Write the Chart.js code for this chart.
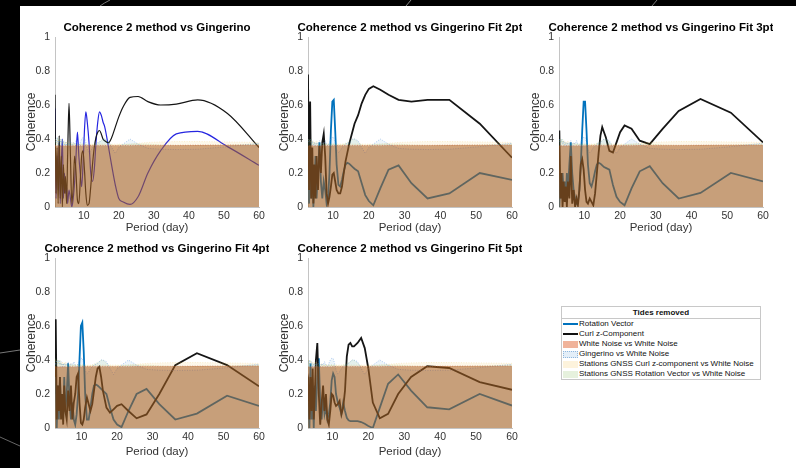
<!DOCTYPE html>
<html>
<head>
<meta charset="utf-8">
<script src="https://cdn.jsdelivr.net/npm/chart.js@4.4.1/dist/chart.umd.min.js"></script>
<style>
  body { margin: 0; width: 796px; height: 468px; overflow: hidden; position: relative; background: #000;
         font-family: "Liberation Sans", Arial, Helvetica, sans-serif; }
  #sheet { position: absolute; left: 20px; top: 6px; right: 0; bottom: 0; background: #fff; }
  #deco { position: absolute; left: 0; top: 0; }
  canvas { position: absolute; }
  #legend { position: absolute; left: 561px; top: 306px; width: 198px; height: 72px;
            border: 1px solid #c8c8c8; background: #fff; font-size: 8px; color: #111; }
  #legend .lt { height: 11px; line-height: 11px; text-align: center; font-weight: bold; border-bottom: 1px solid #c8c8c8; }
  #legend .li { height: 10px; line-height: 10px; position: relative; padding-left: 17px; white-space: nowrap; }
  #legend .ln { position: absolute; left: 1px; top: 4px; width: 15px; height: 2px; }
  #legend .sw { position: absolute; left: 1px; top: 1.5px; width: 15px; height: 7px; box-sizing: border-box; }
</style>
</head>
<body>
<svg id="deco" width="796" height="468">
  <path d="M0 353 L20 350" stroke="#777" stroke-width="1" fill="none"/>
  <path d="M0 437 L20 446" stroke="#666" stroke-width="1" fill="none"/>
  <path d="M100 6 Q104 3 110 0" stroke="#777" stroke-width="1" fill="none"/>
  <path d="M406 6 L411 0" stroke="#888" stroke-width="1" fill="none"/>
  <path d="M652 6 L657 0" stroke="#777" stroke-width="1" fill="none"/>
</svg>
<div id="sheet"></div>

<canvas id="c1" width="254" height="219" style="left:15px;top:20px"></canvas>
<canvas id="c2" width="254" height="219" style="left:268px;top:20px"></canvas>
<canvas id="c3" width="254" height="219" style="left:519px;top:20px"></canvas>
<canvas id="c4" width="254" height="219" style="left:15px;top:241px"></canvas>
<canvas id="c5" width="254" height="219" style="left:268px;top:241px"></canvas>

<div id="legend">
  <div class="lt">Tides removed</div>
  <div class="li"><span class="ln" style="background:#0072BD"></span>Rotation Vector</div>
  <div class="li"><span class="ln" style="background:#111"></span>Curl z-Component</div>
  <div class="li"><span class="sw" style="background:#f0b39a"></span>White Noise vs White Noise</div>
  <div class="li"><span class="sw" style="background:#e3eef8;border:1px dotted #8fb7dd"></span>Gingerino vs White Noise</div>
  <div class="li"><span class="sw" style="background:#fdf3dc"></span>Stations GNSS Curl z-component vs White Noise</div>
  <div class="li"><span class="sw" style="background:#e6f1dd"></span>Stations GNSS Rotation Vector vs White Noise</div>
</div>

<script>
// periods (day) shared by every series
const periods = [1.8, 2.1, 2.4, 2.7, 3.0, 3.3, 3.6, 3.9, 4.2, 4.5, 4.8, 5.1, 5.4,
  5.8, 6.2, 6.6, 7.0, 7.4, 7.8, 8.2, 8.6, 9.0, 9.4, 9.8,
  10.2, 10.6, 11.0, 11.5, 12.0, 12.5, 13.0, 13.5, 14.0, 14.5, 15.0, 15.5, 16,
  17, 18, 19, 20, 21.25, 23.2, 25.5, 28.3, 31.9, 36.4, 42.5, 51, 60];
const xTicks = [10, 20, 30, 40, 50, 60];

// noise levels (same in every panel)
const whiteNoise = [0.36, 0.36, 0.36, 0.36, 0.36, 0.36, 0.36, 0.36, 0.36, 0.36, 0.36, 0.36, 0.36,
  0.36, 0.36, 0.36, 0.361, 0.361, 0.361, 0.361, 0.361, 0.361, 0.361, 0.361,
  0.362, 0.362, 0.362, 0.362, 0.362, 0.362, 0.362, 0.362, 0.362, 0.362, 0.362, 0.362, 0.362,
  0.362, 0.362, 0.362, 0.362, 0.362, 0.362, 0.363, 0.363, 0.363, 0.363, 0.364, 0.365, 0.365];
const gingerinoNoise = [0.40, 0.38, 0.41, 0.37, 0.40, 0.38, 0.40, 0.37, 0.39, 0.36, 0.38, 0.36, 0.38,
  0.37, 0.39, 0.36, 0.38, 0.37, 0.39, 0.37, 0.36, 0.38, 0.40, 0.41,
  0.41, 0.38, 0.34, 0.32, 0.33, 0.35, 0.36, 0.37, 0.375, 0.38, 0.39, 0.40, 0.40,
  0.39, 0.35, 0.315, 0.35, 0.37, 0.40, 0.37, 0.345, 0.34, 0.338, 0.34, 0.355, 0.375];
const curlGnssNoise = [0.39, 0.40, 0.38, 0.40, 0.39, 0.40, 0.38, 0.39, 0.38, 0.39, 0.38, 0.38, 0.39,
  0.38, 0.38, 0.37, 0.38, 0.37, 0.37, 0.37, 0.37, 0.37, 0.37, 0.37,
  0.37, 0.37, 0.37, 0.37, 0.37, 0.37, 0.37, 0.37, 0.37, 0.37, 0.37, 0.37, 0.37,
  0.37, 0.37, 0.37, 0.37, 0.37, 0.37, 0.375, 0.38, 0.383, 0.385, 0.385, 0.383, 0.38];
const rotGnssNoise = [0.40, 0.38, 0.40, 0.41, 0.39, 0.40, 0.38, 0.40, 0.37, 0.38, 0.37, 0.38, 0.37,
  0.37, 0.37, 0.37, 0.37, 0.37, 0.37, 0.37, 0.37, 0.37, 0.37, 0.37,
  0.37, 0.37, 0.365, 0.365, 0.365, 0.365, 0.37, 0.375, 0.38, 0.385, 0.39, 0.40, 0.40,
  0.38, 0.365, 0.36, 0.365, 0.365, 0.37, 0.37, 0.37, 0.365, 0.362, 0.362, 0.365, 0.37];

// panel 1: vs Gingerino
const rot1 = [0.58, 0.05, 0.30, 0.10, 0.38, 0.02, 0.25, 0.40, 0.05, 0.20, 0.08, 0.12, 0.02,
  0.10, 0.05, 0.00, 0.05, 0.15, 0.30, 0.44, 0.30, 0.20, 0.12, 0.25,
  0.45, 0.56, 0.50, 0.38, 0.20, 0.15, 0.22, 0.38, 0.50, 0.56, 0.54, 0.50, 0.47,
  0.36, 0.24, 0.13, 0.05, 0.03, 0.015, 0.06, 0.20, 0.33, 0.43, 0.445, 0.355, 0.245];
const curl1 = [0.66, 0.08, 0.35, 0.02, 0.42, 0.05, 0.30, 0.00, 0.25, 0.08, 0.18, 0.02, 0.30,
  0.61, 0.30, 0.02, 0.12, 0.30, 0.20, 0.04, 0.02, 0.15, 0.30, 0.33,
  0.22, 0.08, 0.01, 0.02, 0.12, 0.25, 0.35, 0.41, 0.44, 0.45, 0.43, 0.40, 0.39,
  0.378, 0.41, 0.47, 0.53, 0.59, 0.645, 0.65, 0.62, 0.60, 0.605, 0.63, 0.55, 0.35];

// panel 2: Fit 2pt
const rot2 = [0.20, 0.20, 0.20, 0.20, 0.20, 0.02, 0.30, 0.05, 0.25, 0.00, 0.15, 0.30, 0.05,
  0.20, 0.38, 0.15, 0.05, 0.15, 0.10, 0.02, 0.05, 0.20, 0.45, 0.62,
  0.63, 0.45, 0.25, 0.13, 0.12, 0.16, 0.21, 0.25, 0.26, 0.255, 0.245, 0.235, 0.225,
  0.21, 0.14, 0.07, 0.035, 0.01, 0.11, 0.22, 0.245, 0.14, 0.05, 0.08, 0.20, 0.16];
const curl2 = [0.30, 0.30, 0.30, 0.30, 0.78, 0.10, 0.62, 0.05, 0.35, 0.02, 0.25, 0.05, 0.30,
  0.10, 0.36, 0.20, 0.38, 0.43, 0.30, 0.08, 0.02, 0.06, 0.12, 0.19,
  0.20, 0.15, 0.10, 0.08, 0.08, 0.12, 0.20, 0.27, 0.32, 0.37, 0.41, 0.45, 0.49,
  0.54, 0.61, 0.66, 0.695, 0.71, 0.69, 0.66, 0.63, 0.62, 0.63, 0.63, 0.49, 0.29];

// panel 3: Fit 3pt
const rot3 = [0.10, 0.10, 0.10, 0.10, 0.00, 0.20, 0.05, 0.20, 0.10, 0.15, 0.05, 0.20, 0.10,
  0.25, 0.38, 0.20, 0.10, 0.05, 0.02, 0.03, 0.10, 0.25, 0.45, 0.62,
  0.62, 0.45, 0.25, 0.14, 0.12, 0.16, 0.21, 0.25, 0.26, 0.255, 0.245, 0.235, 0.23,
  0.22, 0.13, 0.06, 0.03, 0.01, 0.11, 0.21, 0.24, 0.14, 0.05, 0.083, 0.20, 0.15];
const curl3 = [0.30, 0.30, 0.30, 0.40, 0.45, 0.05, 0.20, 0.00, 0.15, 0.03, 0.12, 0.00, 0.15,
  0.05, 0.30, 0.02, 0.10, 0.00, 0.05, 0.01, 0.10, 0.25, 0.28, 0.22,
  0.10, 0.03, 0.02, 0.05, 0.03, 0.01, 0.08, 0.20, 0.32, 0.42, 0.47, 0.44, 0.41,
  0.33, 0.32, 0.38, 0.44, 0.48, 0.46, 0.39, 0.37, 0.46, 0.565, 0.635, 0.555, 0.38];

// panel 4: Fit 4pt
const rot4 = [0.20, 0.20, 0.20, 0.30, 0.00, 0.25, 0.05, 0.30, 0.10, 0.20, 0.05, 0.30, 0.10,
  0.20, 0.38, 0.15, 0.05, 0.15, 0.05, 0.02, 0.08, 0.20, 0.40, 0.60,
  0.62, 0.45, 0.20, 0.05, 0.05, 0.12, 0.20, 0.25, 0.256, 0.25, 0.24, 0.23, 0.22,
  0.20, 0.12, 0.05, 0.02, 0.005, 0.10, 0.20, 0.23, 0.14, 0.05, 0.085, 0.19, 0.13];
const curl4 = [0.30, 0.30, 0.30, 0.64, 0.05, 0.25, 0.10, 0.30, 0.05, 0.20, 0.02, 0.25, 0.10,
  0.05, 0.22, 0.10, 0.25, 0.05, 0.15, 0.20, 0.30, 0.32, 0.15, 0.03,
  0.02, 0.05, 0.12, 0.18, 0.14, 0.10, 0.14, 0.22, 0.30, 0.35, 0.36, 0.30, 0.22,
  0.12, 0.09, 0.11, 0.13, 0.14, 0.10, 0.057, 0.08, 0.20, 0.37, 0.44, 0.37, 0.245];

// panel 5: Fit 5pt
const rot5 = [0.10, 0.10, 0.10, 0.10, 0.10, 0.15, 0.00, 0.38, 0.05, 0.20, 0.00, 0.25, 0.10,
  0.30, 0.41, 0.15, 0.05, 0.18, 0.08, 0.12, 0.05, 0.08, 0.15, 0.28,
  0.32, 0.30, 0.20, 0.15, 0.12, 0.08, 0.15, 0.10, 0.06, 0.045, 0.04, 0.04, 0.04,
  0.04, 0.035, 0.025, 0.012, 0.00, 0.12, 0.26, 0.315, 0.22, 0.122, 0.11, 0.20, 0.132];
const curl5 = [0.20, 0.20, 0.20, 0.20, 0.25, 0.28, 0.05, 0.30, 0.10, 0.35, 0.05, 0.20, 0.40,
  0.50, 0.20, 0.02, 0.15, 0.25, 0.10, 0.20, 0.05, 0.02, 0.10, 0.20,
  0.19, 0.15, 0.13, 0.14, 0.16, 0.08, 0.12, 0.22, 0.42, 0.49, 0.50, 0.48, 0.48,
  0.50, 0.53, 0.47, 0.35, 0.15, 0.057, 0.083, 0.20, 0.30, 0.363, 0.353, 0.27, 0.225];

const fontFamily = '"Liberation Sans", Arial, Helvetica, sans-serif';

const pts = (vals) => periods.map((p, i) => ({ x: p, y: vals[i] }));

// title centred over the plot area, allowed to run past it like MATLAB does
const panelTitle = {
    id: 'panelTitle',
    afterDraw(chart, args, opts) {
        const { ctx, chartArea } = chart;
        ctx.save();
        ctx.font = 'bold 11.5px ' + fontFamily;
        ctx.fillStyle = '#000';
        ctx.textAlign = 'center';
        ctx.textBaseline = 'middle';
        ctx.fillText(opts.text, (chartArea.left + chartArea.right) / 2, chartArea.top - 9);
        ctx.restore();
    }
};

const fillSet = (label, vals, bg, edge) => ({
    label,
    data: pts(vals),
    order: 0,
    fill: 'origin',
    backgroundColor: bg,
    borderColor: edge,
    borderWidth: 0.8,
    borderDash: [1, 1.5],
    pointRadius: 0,
    tension: 0
});

const makePanel = (id, title, xMin, rot, curl, rotColor, lineWidth, smooth, xTitlePad) => {
    const lineSet = (label, vals, color, order) => ({
        label,
        data: pts(vals),
        order,
        fill: false,
        borderColor: color,
        borderWidth: lineWidth,
        pointRadius: 0,
        cubicInterpolationMode: smooth ? 'monotone' : 'default',
        tension: smooth ? 0.4 : 0
    });

    new Chart(document.getElementById(id), {
        type: 'line',
        data: {
            datasets: [
                fillSet('White Noise vs White Noise', whiteNoise, 'rgba(170, 82, 22, 0.49)', 'rgba(210, 90, 60, 0.7)'),
                fillSet('Gingerino vs White Noise', gingerinoNoise, 'rgba(0, 114, 189, 0.07)', 'rgba(80, 140, 220, 0.55)'),
                fillSet('Stations GNSS Curl z-component vs White Noise', curlGnssNoise, 'rgba(237, 177, 32, 0.09)', 'rgba(237, 177, 32, 0.25)'),
                fillSet('Stations GNSS Rotation Vector vs White Noise', rotGnssNoise, 'rgba(119, 172, 48, 0.07)', 'rgba(119, 172, 48, 0.3)'),
                lineSet('Curl z-Component', curl, '#151515', 1),
                lineSet('Rotation Vector', rot, rotColor, 2)
            ]
        },
        options: {
            responsive: false,
            animation: false,
            layout: { padding: { left: 0, right: 10, top: 17, bottom: 0 } },
            plugins: {
                legend: { display: false },
                tooltip: { enabled: false },
                panelTitle: { text: title }
            },
            scales: {
                x: {
                    type: 'linear',
                    min: xMin,
                    max: 60,
                    grid: { display: false, drawTicks: false },
                    border: { color: '#c4c4c4' },
                    ticks: { color: '#333', font: { family: fontFamily, size: 10.5 }, padding: 3, autoSkip: false, maxRotation: 0 },
                    afterBuildTicks: (s) => { s.ticks = xTicks.map((v) => ({ value: v })); },
                    afterFit: (s) => { s.height = 32; s.paddingLeft = 0; s.paddingRight = 0; },
                    title: { display: true, text: 'Period (day)', color: '#333', font: { family: fontFamily, size: 11.5 }, padding: { top: 0, bottom: xTitlePad } }
                },
                y: {
                    min: 0,
                    max: 1,
                    grid: { display: false, drawTicks: false },
                    border: { color: '#c4c4c4' },
                    ticks: {
                        stepSize: 0.2,
                        color: '#333',
                        font: { family: fontFamily, size: 10.5 },
                        padding: 5,
                        callback: (v) => String(Math.round(v * 10) / 10)
                    },
                    afterFit: (s) => { s.width = 40; s.paddingTop = 0; s.paddingBottom = 0; },
                    title: { display: true, text: 'Coherence', color: '#333', font: { family: fontFamily, size: 12 }, padding: { top: 9, bottom: 0 } }
                }
            }
        },
        plugins: [panelTitle]
    });
};

makePanel('c1', 'Coherence 2 method vs Gingerino', 1.8, rot1, curl1, '#2626e0', 1.2, true, 4);
makePanel('c2', 'Coherence 2 method vs Gingerino Fit 2pt', 3.0, rot2, curl2, '#0072BD', 1.8, false, 4);
makePanel('c3', 'Coherence 2 method vs Gingerino Fit 3pt', 2.9, rot3, curl3, '#0072BD', 1.8, false, 4);
makePanel('c4', 'Coherence 2 method vs Gingerino Fit 4pt', 2.5, rot4, curl4, '#0072BD', 1.8, false, 1);
makePanel('c5', 'Coherence 2 method vs Gingerino Fit 5pt', 3.2, rot5, curl5, '#0072BD', 1.8, false, 1);
</script>
</body>
</html>
